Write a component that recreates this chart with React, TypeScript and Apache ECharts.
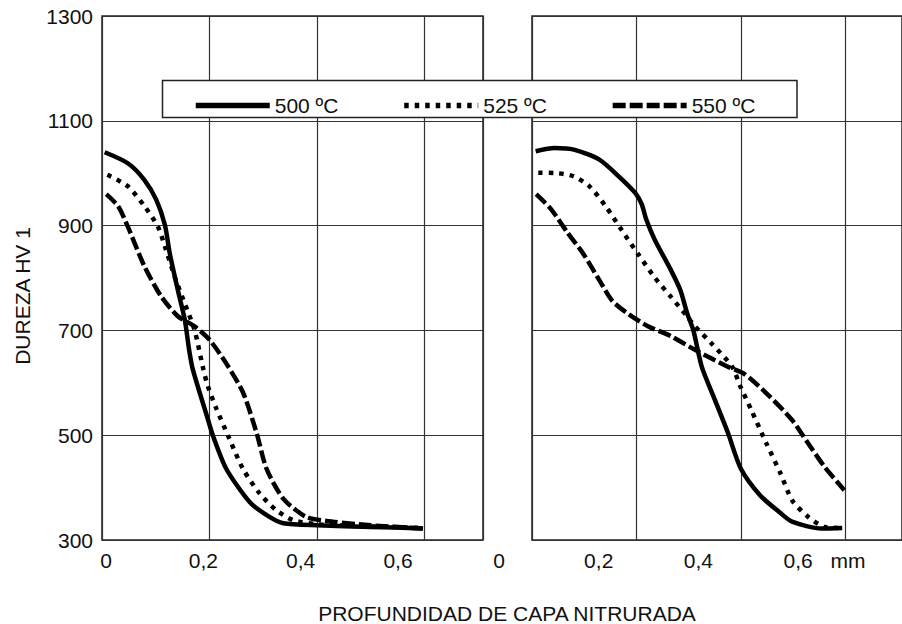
import React, { useEffect, useRef } from "react";
import * as echarts from "echarts";

// ---- data ----
const yTicks = [300, 500, 700, 900, 1100, 1300];
const xTickValues = [0, 0.2, 0.4, 0.6];
const xTickLabels = ["0", "0,2", "0,4", "0,6"];
const unitTickValue = 0.7;
const unitLabel = "mm";
const seriesNames = ["500 ºC", "525 ºC", "550 ºC"];
const yTitle = "DUREZA HV 1";
const xTitle = "PROFUNDIDAD DE CAPA NITRURADA";

// left panel
const left500 = [
  [0.005, 1040], [0.048, 1019], [0.079, 987], [0.101, 949], [0.117, 901],
  [0.126, 847], [0.141, 777], [0.154, 720], [0.162, 663], [0.169, 625],
  [0.197, 530], [0.206, 500], [0.231, 436], [0.275, 372], [0.31, 345],
  [0.337, 332], [0.4, 328], [0.5, 325], [0.597, 322],
];
const left525 = [
  [0.01, 997], [0.048, 975], [0.079, 937], [0.104, 898], [0.117, 860],
  [0.135, 803], [0.151, 759], [0.172, 701], [0.188, 628], [0.197, 593],
  [0.213, 550], [0.237, 493], [0.262, 436], [0.293, 389], [0.324, 357],
  [0.355, 338], [0.4, 330], [0.5, 326], [0.597, 323],
];
const left550 = [
  [0.008, 960], [0.03, 937], [0.048, 898], [0.079, 822], [0.11, 765],
  [0.141, 727], [0.172, 708], [0.2, 682], [0.231, 637], [0.262, 582],
  [0.287, 506], [0.306, 436], [0.337, 379], [0.38, 344], [0.43, 335],
  [0.5, 328], [0.597, 322],
];

// right panel
const right500 = [
  [0.007, 1042], [0.043, 1048], [0.08, 1045], [0.129, 1026], [0.166, 994],
  [0.198, 962], [0.21, 941], [0.219, 911], [0.235, 873], [0.266, 815],
  [0.284, 777], [0.297, 733], [0.309, 700], [0.325, 631], [0.35, 568],
  [0.375, 505], [0.4, 436], [0.437, 385], [0.474, 353], [0.498, 335],
  [0.554, 322], [0.594, 323],
];
const right525 = [
  [0.012, 1001], [0.049, 1000], [0.08, 994], [0.11, 975], [0.141, 937],
  [0.172, 891], [0.203, 846], [0.235, 801], [0.266, 764], [0.297, 727],
  [0.312, 708], [0.343, 676], [0.383, 631], [0.399, 593], [0.42, 548],
  [0.449, 484], [0.476, 427], [0.498, 376], [0.529, 344], [0.56, 325],
  [0.59, 323],
];
const right550 = [
  [0.008, 960], [0.036, 932], [0.067, 888], [0.099, 845], [0.13, 794],
  [0.154, 756], [0.185, 731], [0.222, 708], [0.266, 689], [0.312, 663],
  [0.374, 631], [0.405, 618], [0.449, 580], [0.498, 529], [0.529, 484],
  [0.56, 440], [0.598, 395],
];

const FONT = '"Liberation Sans", Arial, sans-serif';

export default function App() {
  const ref = useRef<HTMLDivElement>(null);

  useEffect(() => {
    if (!ref.current) return;
    const chart = echarts.init(ref.current, undefined, { renderer: "svg" });

    const lineTypes: any[] = ["solid", [4.5, 6], [13, 4]];
    const mkSeries = (name: string, data: number[][], idx: number, panel: number) => ({
      name,
      type: "line",
      xAxisIndex: panel,
      yAxisIndex: panel,
      data,
      smooth: 0.25,
      symbol: "none",
      lineStyle: { color: "#000", width: 4.5, type: lineTypes[idx], cap: "butt" },
      itemStyle: { color: "#000" },
      z: 3,
    });

    const labelFormatter = (v: number) => {
      const i = xTickValues.findIndex((t) => Math.abs(t - v) < 1e-6);
      if (i >= 0) return xTickLabels[i];
      if (Math.abs(v - unitTickValue) < 1e-6) return unitLabel;
      return "";
    };

    const dataX = (gridIndex: number) => ({
      type: "value",
      gridIndex,
      min: 0,
      max: 0.7085,
      interval: 0.2,
      axisLine: { show: false },
      axisTick: { show: false },
      axisLabel: { show: false },
      splitLine: { show: true, lineStyle: { color: "#333", width: 1.2 } },
    });
    const dataY = (gridIndex: number, showLabels: boolean) => ({
      type: "value",
      gridIndex,
      min: yTicks[0],
      max: yTicks[yTicks.length - 1],
      interval: yTicks[1] - yTicks[0],
      axisLine: { show: false },
      axisTick: { show: false },
      axisLabel: {
        show: showLabels,
        fontSize: 21,
        fontFamily: FONT,
        color: "#111",
        margin: 9,
        formatter: (v: number) => String(v),
      },
      splitLine: { show: true, lineStyle: { color: "#333", width: 1.2 } },
    });
    const labelX = (gridIndex: number, max: number, interval: number) => ({
      type: "value",
      gridIndex,
      min: 0,
      max,
      interval,
      axisLine: { show: false },
      axisTick: { show: false },
      splitLine: { show: false },
      axisLabel: {
        show: true,
        fontSize: 21,
        fontFamily: FONT,
        color: "#111",
        margin: 10,
        showMinLabel: true,
        showMaxLabel: true,
        hideOverlap: false,
        formatter: labelFormatter,
      },
    });
    const hiddenY = (gridIndex: number) => ({
      type: "value",
      gridIndex,
      min: 0,
      max: 1,
      show: false,
    });

    chart.setOption({
      animation: false,
      backgroundColor: "#fff",
      textStyle: { fontFamily: FONT },
      grid: [
        { left: 102, top: 16, width: 381, height: 524, show: true, borderColor: "#222", borderWidth: 1.5, backgroundColor: "transparent" },
        { left: 532, top: 16, width: 381, height: 524, show: true, borderColor: "#222", borderWidth: 1.5, backgroundColor: "transparent" },
        { left: 106, top: 16, width: 292, height: 524, show: false },
        { left: 499, top: 16, width: 349, height: 524, show: false },
      ],
      xAxis: [dataX(0), dataX(1), labelX(2, 0.6, 0.2), labelX(3, unitTickValue, 0.1)],
      yAxis: [dataY(0, true), dataY(1, false), hiddenY(2), hiddenY(3)],
      legend: {
        data: seriesNames,
        left: 193,
        top: 95,
        itemWidth: 74,
        itemHeight: 14,
        itemGap: 63,
        padding: 0,
        selectedMode: false,
        textStyle: { fontSize: 21, fontFamily: FONT, color: "#111" },
        lineStyle: { width: 5.5 },
        itemStyle: { opacity: 0 },
        z: 20,
      },
      graphic: [
        {
          type: "rect",
          z: 10,
          shape: { x: 162.5, y: 80.5, width: 634.5, height: 37 },
          style: { fill: "#fff", stroke: "#222", lineWidth: 1.5 },
        },
        {
          type: "text",
          x: 22,
          y: 296,
          rotation: Math.PI / 2,
          style: {
            text: yTitle,
            font: `21px ${FONT}`,
            fill: "#111",
            align: "center",
            verticalAlign: "middle",
          },
        },
        {
          type: "text",
          x: 507,
          y: 613,
          style: {
            text: xTitle,
            font: `21px ${FONT}`,
            fill: "#111",
            align: "center",
            verticalAlign: "middle",
          },
        },
      ],
      series: [
        mkSeries(seriesNames[0], left500, 0, 0),
        mkSeries(seriesNames[1], left525, 1, 0),
        mkSeries(seriesNames[2], left550, 2, 0),
        mkSeries(seriesNames[0], right500, 0, 1),
        mkSeries(seriesNames[1], right525, 1, 1),
        mkSeries(seriesNames[2], right550, 2, 1),
      ],
    });

    return () => chart.dispose();
  }, []);

  return (
    <div
      ref={ref}
      style={{ position: "fixed", left: 0, top: 0, width: 902, height: 624, background: "#fff" }}
    />
  );
}
